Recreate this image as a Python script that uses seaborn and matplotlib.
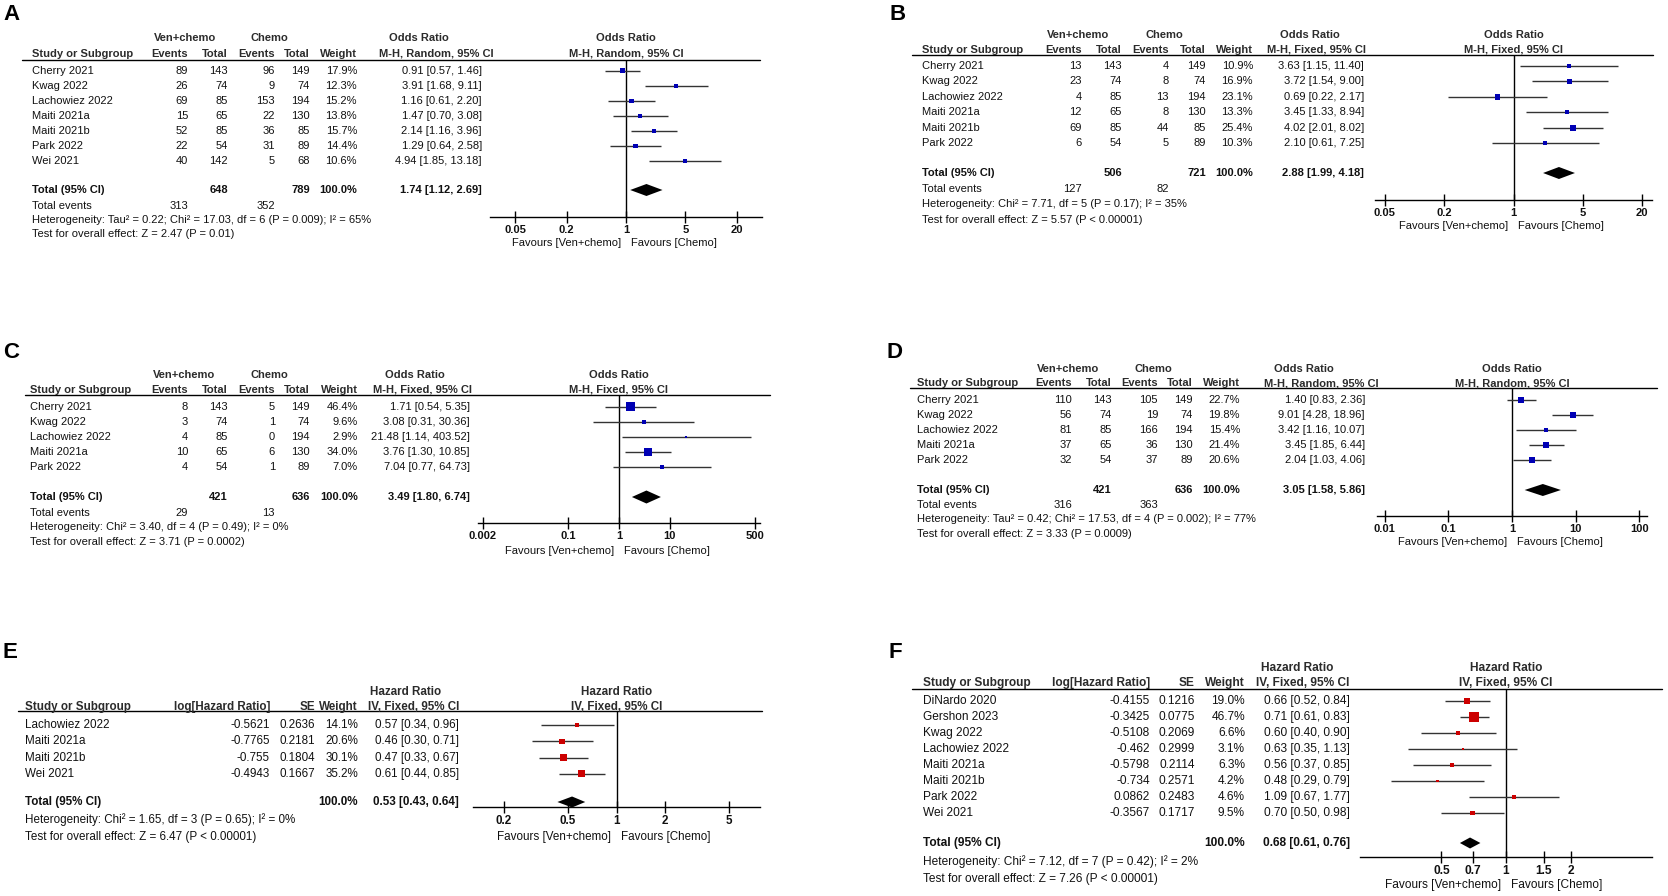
import numpy as np
import pandas as pd
import seaborn as sns
import matplotlib.pyplot as plt
from matplotlib.ticker import NullLocator

# ---------------- data ----------------
# A: odds ratio, random effects
a_studies = ["Cherry 2021", "Kwag 2022", "Lachowiez 2022", "Maiti 2021a", "Maiti 2021b", "Park 2022", "Wei 2021"]
a_ven_events = [89, 26, 69, 15, 52, 22, 40]
a_ven_total = [143, 74, 85, 65, 85, 54, 142]
a_chemo_events = [96, 9, 153, 22, 36, 31, 5]
a_chemo_total = [149, 74, 194, 130, 85, 89, 68]
a_weight = [17.9, 12.3, 15.2, 13.8, 15.7, 14.4, 10.6]
a_or = [0.91, 3.91, 1.16, 1.47, 2.14, 1.29, 4.94]
a_lo = [0.57, 1.68, 0.61, 0.70, 1.16, 0.64, 1.85]
a_hi = [1.46, 9.11, 2.20, 3.08, 3.96, 2.58, 13.18]
a_totals = [648, 789, 313, 352]
a_pooled = [1.74, 1.12, 2.69]
a_het = "Heterogeneity: Tau² = 0.22; Chi² = 17.03, df = 6 (P = 0.009); I² = 65%"
a_test = "Test for overall effect: Z = 2.47 (P = 0.01)"

# B: odds ratio, fixed effects
b_studies = ["Cherry 2021", "Kwag 2022", "Lachowiez 2022", "Maiti 2021a", "Maiti 2021b", "Park 2022"]
b_ven_events = [13, 23, 4, 12, 69, 6]
b_ven_total = [143, 74, 85, 65, 85, 54]
b_chemo_events = [4, 8, 13, 8, 44, 5]
b_chemo_total = [149, 74, 194, 130, 85, 89]
b_weight = [10.9, 16.9, 23.1, 13.3, 25.4, 10.3]
b_or = [3.63, 3.72, 0.69, 3.45, 4.02, 2.10]
b_lo = [1.15, 1.54, 0.22, 1.33, 2.01, 0.61]
b_hi = [11.40, 9.00, 2.17, 8.94, 8.02, 7.25]
b_totals = [506, 721, 127, 82]
b_pooled = [2.88, 1.99, 4.18]
b_het = "Heterogeneity: Chi² = 7.71, df = 5 (P = 0.17); I² = 35%"
b_test = "Test for overall effect: Z = 5.57 (P < 0.00001)"

# C: odds ratio, fixed effects
c_studies = ["Cherry 2021", "Kwag 2022", "Lachowiez 2022", "Maiti 2021a", "Park 2022"]
c_ven_events = [8, 3, 4, 10, 4]
c_ven_total = [143, 74, 85, 65, 54]
c_chemo_events = [5, 1, 0, 6, 1]
c_chemo_total = [149, 74, 194, 130, 89]
c_weight = [46.4, 9.6, 2.9, 34.0, 7.0]
c_or = [1.71, 3.08, 21.48, 3.76, 7.04]
c_lo = [0.54, 0.31, 1.14, 1.30, 0.77]
c_hi = [5.35, 30.36, 403.52, 10.85, 64.73]
c_totals = [421, 636, 29, 13]
c_pooled = [3.49, 1.80, 6.74]
c_het = "Heterogeneity: Chi² = 3.40, df = 4 (P = 0.49); I² = 0%"
c_test = "Test for overall effect: Z = 3.71 (P = 0.0002)"

# D: odds ratio, random effects
d_studies = ["Cherry 2021", "Kwag 2022", "Lachowiez 2022", "Maiti 2021a", "Park 2022"]
d_ven_events = [110, 56, 81, 37, 32]
d_ven_total = [143, 74, 85, 65, 54]
d_chemo_events = [105, 19, 166, 36, 37]
d_chemo_total = [149, 74, 194, 130, 89]
d_weight = [22.7, 19.8, 15.4, 21.4, 20.6]
d_or = [1.40, 9.01, 3.42, 3.45, 2.04]
d_lo = [0.83, 4.28, 1.16, 1.85, 1.03]
d_hi = [2.36, 18.96, 10.07, 6.44, 4.06]
d_totals = [421, 636, 316, 363]
d_pooled = [3.05, 1.58, 5.86]
d_het = "Heterogeneity: Tau² = 0.42; Chi² = 17.53, df = 4 (P = 0.002); I² = 77%"
d_test = "Test for overall effect: Z = 3.33 (P = 0.0009)"

# E: hazard ratio, fixed effects
e_studies = ["Lachowiez 2022", "Maiti 2021a", "Maiti 2021b", "Wei 2021"]
e_loghr = [-0.5621, -0.7765, -0.755, -0.4943]
e_se = [0.2636, 0.2181, 0.1804, 0.1667]
e_weight = [14.1, 20.6, 30.1, 35.2]
e_hr = [0.57, 0.46, 0.47, 0.61]
e_lo = [0.34, 0.30, 0.33, 0.44]
e_hi = [0.96, 0.71, 0.67, 0.85]
e_pooled = [0.53, 0.43, 0.64]
e_het = "Heterogeneity: Chi² = 1.65, df = 3 (P = 0.65); I² = 0%"
e_test = "Test for overall effect: Z = 6.47 (P < 0.00001)"

# F: hazard ratio, fixed effects
f_studies = ["DiNardo 2020", "Gershon 2023", "Kwag 2022", "Lachowiez 2022", "Maiti 2021a", "Maiti 2021b", "Park 2022", "Wei 2021"]
f_loghr = [-0.4155, -0.3425, -0.5108, -0.462, -0.5798, -0.734, 0.0862, -0.3567]
f_se = [0.1216, 0.0775, 0.2069, 0.2999, 0.2114, 0.2571, 0.2483, 0.1717]
f_weight = [19.0, 46.7, 6.6, 3.1, 6.3, 4.2, 4.6, 9.5]
f_hr = [0.66, 0.71, 0.60, 0.63, 0.56, 0.48, 1.09, 0.70]
f_lo = [0.52, 0.61, 0.40, 0.35, 0.37, 0.29, 0.67, 0.50]
f_hi = [0.84, 0.83, 0.90, 1.13, 0.85, 0.79, 1.77, 0.98]
f_pooled = [0.68, 0.61, 0.76]
f_het = "Heterogeneity: Chi² = 7.12, df = 7 (P = 0.42); I² = 2%"
f_test = "Test for overall effect: Z = 7.26 (P < 0.00001)"

ticks_ab = [0.05, 0.2, 1, 5, 20]
ticks_c = [0.002, 0.1, 1, 10, 500]
ticks_d = [0.01, 0.1, 1, 10, 100]
ticks_e = [0.2, 0.5, 1, 2, 5]
ticks_f = [0.5, 0.7, 1, 1.5, 2]

# ---------------- layout (pixel positions) ----------------
LA = dict(letter=(3, 15), h1=38, h2=54, line=60, lx0=22, lx1=760, sx=32, grp=[185, 269],
          cols=[188, 228, 275, 310, 357], ci_r=482, or_c=419, ci_c=436, y0=71, dy=15,
          tot=190, ev=206, het=220, test=234, fx0=490, fx1=762, dec=1.6, ax_y=217, fav=243,
          smax=5, dh=6, fs=8)
LB = dict(letter=(890, 15), h1=35, h2=50, line=55, lx0=912, lx1=1653, sx=922, grp=[1078, 1164],
          cols=[1082, 1122, 1169, 1206, 1253], ci_r=1364, or_c=1310, ci_c=1317, y0=66, dy=15.4,
          tot=173, ev=189, het=204, test=220, fx0=1375, fx1=1652, dec=1.4, ax_y=200, fav=226,
          smax=6, dh=6, fs=8)
LC = dict(letter=(3, 352), h1=375, h2=390, line=395, lx0=25, lx1=770, sx=30, grp=[184, 269],
          cols=[188, 228, 275, 310, 358], ci_r=470, or_c=415, ci_c=423, y0=407, dy=15,
          tot=497, ev=513, het=527, test=542, fx0=478, fx1=760, dec=2.79, ax_y=523, fav=551,
          smax=9, dh=6.5, fs=8)
LD = dict(letter=(887, 352), h1=369, h2=383, line=388, lx0=910, lx1=1657, sx=917, grp=[1068, 1153],
          cols=[1072, 1112, 1158, 1193, 1240], ci_r=1365, or_c=1304, ci_c=1321, y0=400, dy=15,
          tot=490, ev=505, het=519, test=534, fx0=1377, fx1=1647, dec=2.12, ax_y=516, fav=542,
          smax=6, dh=6, fs=8)
LE = dict(letter=(3, 652), h1=692, h2=707, line=711, lx0=18, lx1=762, sx=25,
          cols=[270, 315, 358], ci_r=459, or_c=406, ci_c=414, y0=725, dy=16.3,
          tot=802, het=820, test=837, fx0=473, fx1=760, dec=0.89, ax_y=807, fav=837,
          smax=7, dh=5.5, fs=8.4)
LF = dict(letter=(889, 652), h1=668, h2=683, line=689, lx0=912, lx1=1662, sx=923,
          cols=[1150, 1195, 1245], ci_r=1350, or_c=1297, ci_c=1303, y0=701, dy=16,
          tot=843, het=862, test=879, fx0=1360, fx1=1652, dec=0.68, ax_y=857, fav=885,
          smax=10, dh=5.5, fs=8.6)

BLUE = "#0000b4"
RED = "#cc0000"
INK = "#111111"
HEAD = "#2b2b2b"

sns.set_theme(style="white")
plt.rcParams["font.family"] = ["Liberation Sans", "DejaVu Sans"]

W, H = 1668, 896
fig = plt.figure(figsize=(W / 100, H / 100), dpi=100)
bg = fig.add_axes([0, 0, 1, 1])
bg.set_xlim(0, W)
bg.set_ylim(H, 0)
bg.axis("off")


def txt(x, y, s, ha="left", bold=False, fs=8, color=INK):
    bg.text(x, y, s, ha=ha, va="center", fontsize=fs,
            fontweight="bold" if bold else "normal", color=color)


def fmt_ci(e, l, h):
    return f"{e:.2f} [{l:.2f}, {h:.2f}]"


def forest(L, est, lo, hi, weight, pooled, color, ticks, head, method):
    fs = L["fs"]
    x_one = (L["fx0"] + L["fx1"]) / 2
    txt(x_one, L["h1"], head, "center", True, fs, HEAD)
    txt(x_one, L["h2"], method, "center", True, fs, HEAD)
    ax = fig.add_axes([L["fx0"] / W, 1 - L["ax_y"] / H,
                       (L["fx1"] - L["fx0"]) / W, (L["ax_y"] - L["line"]) / H])
    ax.patch.set_alpha(0)
    ax.set_xscale("log")
    ys = [L["y0"] + i * L["dy"] for i in range(len(est))]
    ax.hlines(ys, lo, hi, color="#333333", lw=1.0, zorder=2)
    df = pd.DataFrame({"est": est, "y": ys, "w": weight})
    smax = (L["smax"] * 0.72) ** 2
    sns.scatterplot(data=df, x="est", y="y", size="w", sizes=(0, smax),
                    size_norm=(0, max(weight)), marker="s", color=color,
                    linewidth=0, legend=False, ax=ax, zorder=3)
    p, plo, phi = pooled
    yt, h = L["tot"], L["dh"]
    ax.fill([plo, p, phi, p], [yt, yt - h, yt, yt + h], color="black", lw=0, zorder=3)
    ax.axvline(1, color="black", lw=1, zorder=1)
    ax.set_xlim(10 ** -L["dec"], 10 ** L["dec"])
    ax.set_ylim(L["ax_y"], L["line"])
    ax.set_xlabel("")
    ax.set_ylabel("")
    ax.set_yticks([])
    ax.set_xticks(ticks)
    ax.set_xticklabels([f"{t:g}" for t in ticks], fontweight="bold", fontsize=fs, color=INK)
    ax.xaxis.set_minor_locator(NullLocator())
    ax.tick_params(axis="x", bottom=True, direction="inout", length=8, width=1, pad=1.8,
                   color="black", labelcolor=INK)
    for s in ["top", "left", "right"]:
        ax.spines[s].set_visible(False)
    ax.spines["bottom"].set_color("black")
    ax.spines["bottom"].set_linewidth(1)
    txt(x_one - 5, L["fav"], "Favours [Ven+chemo]", "right", False, fs)
    txt(x_one + 5, L["fav"], "Favours [Chemo]", "left", False, fs)


def or_panel(letter, L, studies, ve, vt, ce, ct, w, est, lo, hi, totals, pooled, het, test,
             ticks, method):
    fs = L["fs"]
    txt(L["letter"][0], L["letter"][1], letter, "left", True, 16, "black")
    txt(L["grp"][0], L["h1"], "Ven+chemo", "center", True, fs, HEAD)
    txt(L["grp"][1], L["h1"], "Chemo", "center", True, fs, HEAD)
    txt(L["or_c"], L["h1"], "Odds Ratio", "center", True, fs, HEAD)
    txt(L["sx"], L["h2"], "Study or Subgroup", "left", True, fs, HEAD)
    for x, lab in zip(L["cols"], ["Events", "Total", "Events", "Total", "Weight"]):
        txt(x, L["h2"], lab, "right", True, fs, HEAD)
    txt(L["ci_c"], L["h2"], method, "center", True, fs, HEAD)
    bg.plot([L["lx0"], L["lx1"]], [L["line"], L["line"]], color="black", lw=1)
    for i, s in enumerate(studies):
        y = L["y0"] + i * L["dy"]
        txt(L["sx"], y, s, "left", False, fs)
        vals = [ve[i], vt[i], ce[i], ct[i], f"{w[i]:.1f}%"]
        for x, v in zip(L["cols"], vals):
            txt(x, y, str(v), "right", False, fs)
        txt(L["ci_r"], y, fmt_ci(est[i], lo[i], hi[i]), "right", False, fs)
    txt(L["sx"], L["tot"], "Total (95% CI)", "left", True, fs)
    txt(L["cols"][1], L["tot"], str(totals[0]), "right", True, fs)
    txt(L["cols"][3], L["tot"], str(totals[1]), "right", True, fs)
    txt(L["cols"][4], L["tot"], "100.0%", "right", True, fs)
    txt(L["ci_r"], L["tot"], fmt_ci(*pooled), "right", True, fs)
    txt(L["sx"], L["ev"], "Total events", "left", False, fs)
    txt(L["cols"][0], L["ev"], str(totals[2]), "right", False, fs)
    txt(L["cols"][2], L["ev"], str(totals[3]), "right", False, fs)
    txt(L["sx"], L["het"], het, "left", False, fs)
    txt(L["sx"], L["test"], test, "left", False, fs)
    forest(L, est, lo, hi, w, pooled, BLUE, ticks, "Odds Ratio", method)


def hr_panel(letter, L, studies, loghr, se, w, est, lo, hi, pooled, het, test, ticks):
    fs = L["fs"]
    method = "IV, Fixed, 95% CI"
    txt(L["letter"][0], L["letter"][1], letter, "left", True, 16, "black")
    txt(L["or_c"], L["h1"], "Hazard Ratio", "center", True, fs, HEAD)
    txt(L["sx"], L["h2"], "Study or Subgroup", "left", True, fs, HEAD)
    for x, lab in zip(L["cols"], ["log[Hazard Ratio]", "SE", "Weight"]):
        txt(x, L["h2"], lab, "right", True, fs, HEAD)
    txt(L["ci_c"], L["h2"], method, "center", True, fs, HEAD)
    bg.plot([L["lx0"], L["lx1"]], [L["line"], L["line"]], color="black", lw=1)
    for i, s in enumerate(studies):
        y = L["y0"] + i * L["dy"]
        txt(L["sx"], y, s, "left", False, fs)
        vals = [str(loghr[i]), str(se[i]), f"{w[i]:.1f}%"]
        for x, v in zip(L["cols"], vals):
            txt(x, y, v, "right", False, fs)
        txt(L["ci_r"], y, fmt_ci(est[i], lo[i], hi[i]), "right", False, fs)
    txt(L["sx"], L["tot"], "Total (95% CI)", "left", True, fs)
    txt(L["cols"][2], L["tot"], "100.0%", "right", True, fs)
    txt(L["ci_r"], L["tot"], fmt_ci(*pooled), "right", True, fs)
    txt(L["sx"], L["het"], het, "left", False, fs)
    txt(L["sx"], L["test"], test, "left", False, fs)
    forest(L, est, lo, hi, w, pooled, RED, ticks, "Hazard Ratio", method)


or_panel("A", LA, a_studies, a_ven_events, a_ven_total, a_chemo_events, a_chemo_total, a_weight,
         a_or, a_lo, a_hi, a_totals, a_pooled, a_het, a_test, ticks_ab, "M-H, Random, 95% CI")
or_panel("B", LB, b_studies, b_ven_events, b_ven_total, b_chemo_events, b_chemo_total, b_weight,
         b_or, b_lo, b_hi, b_totals, b_pooled, b_het, b_test, ticks_ab, "M-H, Fixed, 95% CI")
or_panel("C", LC, c_studies, c_ven_events, c_ven_total, c_chemo_events, c_chemo_total, c_weight,
         c_or, c_lo, c_hi, c_totals, c_pooled, c_het, c_test, ticks_c, "M-H, Fixed, 95% CI")
or_panel("D", LD, d_studies, d_ven_events, d_ven_total, d_chemo_events, d_chemo_total, d_weight,
         d_or, d_lo, d_hi, d_totals, d_pooled, d_het, d_test, ticks_d, "M-H, Random, 95% CI")
hr_panel("E", LE, e_studies, e_loghr, e_se, e_weight, e_hr, e_lo, e_hi, e_pooled, e_het, e_test, ticks_e)
hr_panel("F", LF, f_studies, f_loghr, f_se, f_weight, f_hr, f_lo, f_hi, f_pooled, f_het, f_test, ticks_f)

fig.savefig("out.png", dpi=100, facecolor="white")
